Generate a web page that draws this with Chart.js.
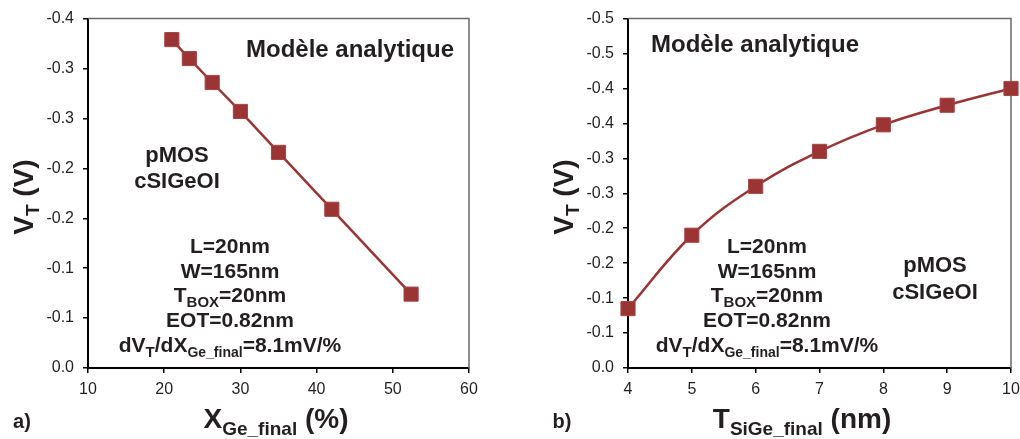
<!DOCTYPE html>
<html>
<head>
<meta charset="utf-8">
<script src="https://cdn.jsdelivr.net/npm/chart.js@4.4.0/dist/chart.umd.min.js"></script>
<style>
body { margin: 0; background: #fff; width: 1020px; height: 439px; overflow: hidden; position: relative; }
.box { position: absolute; top: 0; height: 439px; overflow: hidden; }
</style>
</head>
<body>
<div class="box" style="left:0;width:540px"><canvas id="chartA" width="540" height="439"></canvas></div>
<div class="box" style="left:540px;width:480px"><canvas id="chartB" width="500" height="439"></canvas></div>
<script>
// panel a) : VT vs X_Ge_final
const xGe = [21, 23.3, 26.3, 30, 35, 42, 52.4]
const vtA = [-0.329, -0.310, -0.286, -0.257, -0.216, -0.159, -0.074]
const yTicksA = ['0.0', '-0.1', '-0.1', '-0.2', '-0.2', '-0.3', '-0.3', '-0.4']

// panel b) : VT vs T_SiGe_final
const tSiGe = [4, 5, 6, 7, 8, 9, 10]
const vtB = [-0.085, -0.190, -0.260, -0.310, -0.348, -0.376, -0.400]
const yTicksB = ['0.0', '-0.1', '-0.1', '-0.2', '-0.2', '-0.3', '-0.3', '-0.4', '-0.4', '-0.5', '-0.5']

const FONT = '"Liberation Sans", Arial, sans-serif'
const RED = '#9b3434'

// texte avec indices : parts = [texte, taille, decalage]
function richText(ctx, parts, cx, y) {
	let w = 0
	parts.forEach((p) => {
		ctx.font = 'bold ' + p[1] + 'px ' + FONT
		w += ctx.measureText(p[0]).width
	})
	let x = cx - w / 2
	parts.forEach((p) => {
		ctx.font = 'bold ' + p[1] + 'px ' + FONT
		ctx.fillText(p[0], x, y + (p[2] || 0))
		x += ctx.measureText(p[0]).width
	})
}

function paramBlock(ctx, cx) {
	richText(ctx, [['L=20nm', 21]], cx, 253)
	richText(ctx, [['W=165nm', 21]], cx, 278)
	richText(ctx, [['T', 21], ['BOX', 15, 5], ['=20nm', 21]], cx, 302)
	richText(ctx, [['EOT=0.82nm', 21]], cx, 327)
	richText(ctx, [['dV', 21], ['T', 15, 5], ['/dX', 21], ['Ge_final', 14, 5], ['=8.1mV/%', 21]], cx, 352)
}

function panelPlugin(drawText) {
	return {
		id: 'panel',
		beforeDatasetsDraw(chart) {
			const { ctx, chartArea: a } = chart
			ctx.save()
			ctx.strokeStyle = '#6a6a6a'
			ctx.lineWidth = 1.5
			ctx.beginPath()
			ctx.moveTo(a.left, a.top)
			ctx.lineTo(a.right, a.top)
			ctx.lineTo(a.right, a.bottom)
			ctx.stroke()
			ctx.restore()
		},
		afterDraw(chart) {
			const ctx = chart.ctx
			ctx.save()
			ctx.fillStyle = '#231f20'
			ctx.textBaseline = 'alphabetic'
			// titre de l'axe Y
			ctx.save()
			ctx.translate(33, 197)
			ctx.rotate(-Math.PI / 2)
			richText(ctx, [['V', 28], ['T', 19, 6], [' (V)', 28]], 0, 0)
			ctx.restore()
			drawText(ctx)
			ctx.restore()
		},
	}
}

function makeChart(id, xs, ys, xMin, xMax, xStep, yMin, yLabels, tension, rightPad, drawText) {
	const ctx = document.getElementById(id).getContext('2d')
	return new Chart(ctx, {
		type: 'scatter',
		data: {
			datasets: [
				{
					data: xs.map((x, i) => ({ x: x, y: ys[i] })),
					showLine: true,
					tension: tension,
					borderColor: RED,
					borderWidth: 2.5,
					pointStyle: 'rect',
					pointRadius: 10,
					pointHoverRadius: 10,
					pointBackgroundColor: RED,
					pointBorderColor: '#a84444',
					pointBorderWidth: 1,
					clip: false,
				},
			],
		},
		options: {
			responsive: false,
			animation: false,
			layout: { padding: { left: 0, right: rightPad, top: 14, bottom: 0 } },
			plugins: { legend: { display: false }, tooltip: { enabled: false } },
			scales: {
				x: {
					type: 'linear',
					min: xMin,
					max: xMax,
					ticks: { stepSize: xStep, color: '#231f20', font: { size: 16, family: FONT }, padding: 7 },
					grid: { drawOnChartArea: false, drawTicks: true, tickLength: 5, color: '#000', lineWidth: 1.5 },
					border: { color: '#000', width: 2 },
					afterFit: (s) => { s.height = 71 },
				},
				y: {
					type: 'linear',
					min: yMin,
					max: 0,
					reverse: true,
					ticks: {
						stepSize: 0.05,
						color: '#231f20',
						font: { size: 16, family: FONT },
						padding: 9,
						callback: (v) => yLabels[Math.round(-v / 0.05)],
					},
					grid: { drawOnChartArea: false, drawTicks: true, tickLength: 5, color: '#000', lineWidth: 1.5 },
					border: { color: '#000', width: 2 },
					afterFit: (s) => { s.width = 88 },
				},
			},
		},
		plugins: [panelPlugin(drawText)],
	})
}

makeChart('chartA', xGe, vtA, 10, 60, 10, -0.35, yTicksA, 0, 71, function (ctx) {
	richText(ctx, [['Modèle analytique', 24]], 350, 57)
	richText(ctx, [['pMOS', 22]], 177, 162)
	richText(ctx, [['cSIGeOI', 22]], 177, 188)
	paramBlock(ctx, 230)
	richText(ctx, [['X', 28], ['Ge_final', 19, 7], [' (%)', 28]], 276, 428)
	richText(ctx, [['a)', 20]], 22, 428)
})

makeChart('chartB', tSiGe, vtB, 4, 10, 1, -0.5, yTicksB, 0.4, 29, function (ctx) {
	richText(ctx, [['Modèle analytique', 24]], 215, 52)
	richText(ctx, [['pMOS', 22]], 395, 272)
	richText(ctx, [['cSIGeOI', 22]], 395, 299)
	paramBlock(ctx, 227)
	richText(ctx, [['T', 28], ['SiGe_final', 19, 7], [' (nm)', 28]], 262, 428)
	richText(ctx, [['b)', 20]], 22, 428)
})
</script>
</body>
</html>
